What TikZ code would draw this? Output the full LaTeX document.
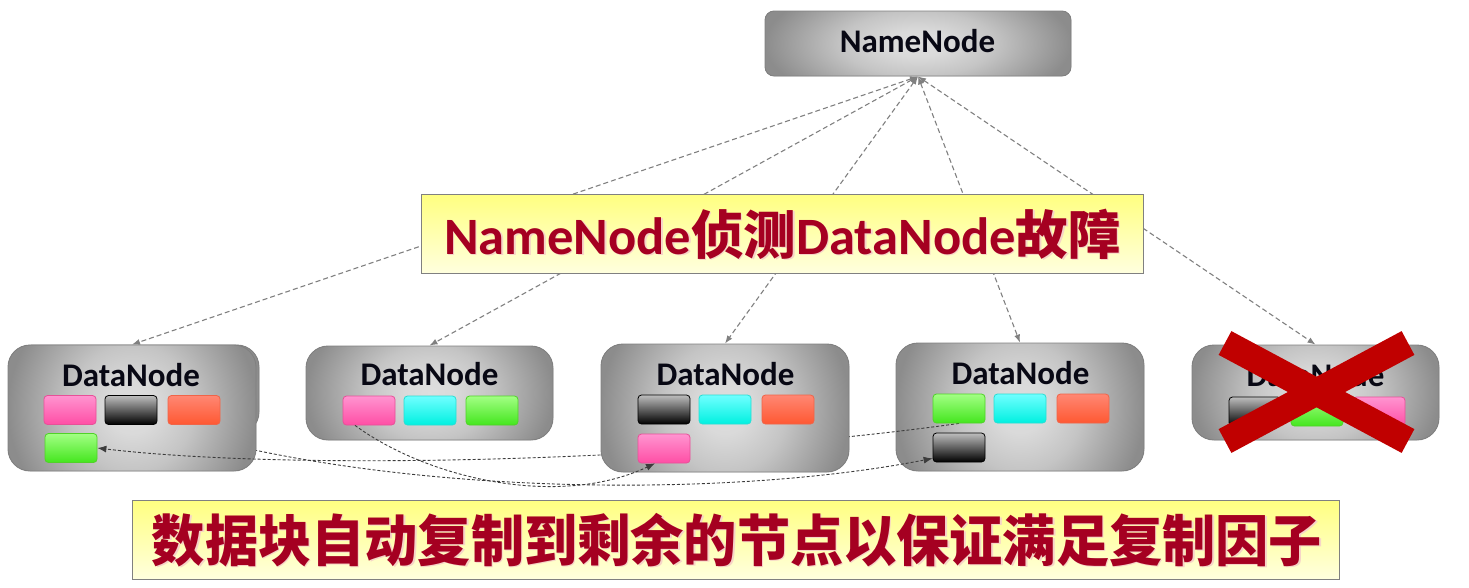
\documentclass[tikz,border=0pt]{standalone}
\usepackage{fontspec}
\setmainfont{Carlito}
\newfontfamily\cjk{Noto Sans CJK SC}
\usetikzlibrary{arrows.meta,calc}
\definecolor{bxc}{gray}{0.87}
\definecolor{bxc2}{gray}{0.855}
\definecolor{bxm}{gray}{0.77}
\definecolor{bxe}{gray}{0.55}
\definecolor{bxb}{gray}{0.5}
\definecolor{yt}{RGB}{255,255,128}
\definecolor{yb}{RGB}{255,255,222}
\definecolor{ybd}{RGB}{128,128,128}
\definecolor{tred}{RGB}{165,0,33}
\definecolor{tshadow}{RGB}{246,212,200}
\definecolor{lblc}{RGB}{8,8,20}
\definecolor{conn}{RGB}{128,128,128}
\definecolor{replc}{RGB}{60,60,60}
\definecolor{xred}{RGB}{192,0,0}
\definecolor{pkT}{RGB}{255,148,208}
\definecolor{pkB}{RGB}{255,78,165}
\definecolor{pkD}{RGB}{232,80,152}
\definecolor{bkT}{RGB}{190,190,190}
\definecolor{bkB}{RGB}{0,0,0}
\definecolor{bkD}{RGB}{0,0,0}
\definecolor{orT}{RGB}{255,135,115}
\definecolor{orB}{RGB}{255,88,50}
\definecolor{orD}{RGB}{240,100,72}
\definecolor{cyT}{RGB}{112,255,255}
\definecolor{cyB}{RGB}{0,240,224}
\definecolor{cyD}{RGB}{40,222,212}
\definecolor{gnT}{RGB}{162,255,132}
\definecolor{gnB}{RGB}{68,230,30}
\definecolor{gnD}{RGB}{80,210,40}
\pgfdeclareradialshading{boxshade}{\pgfpoint{0bp}{0bp}}{color(0bp)=(bxc); color(5bp)=(bxc2); color(12.5bp)=(bxm); color(25bp)=(bxe); color(50bp)=(bxe)}
\pgfdeclarelayer{conn}
\pgfdeclarelayer{ybg}
\pgfdeclarelayer{dnA}
\pgfdeclarelayer{lA}
\pgfdeclarelayer{dnB}
\pgfdeclarelayer{lB}
\pgfdeclarelayer{dnC}
\pgfsetlayers{conn,ybg,dnA,lA,dnB,lB,dnC,main}
\begin{document}
\begin{tikzpicture}[x=1pt,y=-1pt,
  boxfill/.style={fill=bxe, path picture={
    \shade[shading=boxshade] let \p1=(path picture bounding box.north east), \p2=(path picture bounding box.south west) in
      (\x2,{\y2-0.5*(\y1-\y2)}) rectangle (\x1,{\y1+0.5*(\y1-\y2)});}},
  dnbox/.style={draw=bxb, line width=0.9pt, rounded corners=22pt, inner sep=0pt, boxfill},
  nnbox/.style={draw=bxb, line width=0.9pt, rounded corners=9pt, inner sep=0pt, boxfill},
  ybox/.style={draw=ybd, line width=1pt, top color=yt, bottom color=yb, inner sep=0pt},
  lbl/.style={font=\fontsize{33}{36}\selectfont\bfseries, text=lblc, anchor=base, inner sep=0pt},
  ytxt/.style={font=\fontsize{52.5}{60}\selectfont\bfseries, inner sep=0pt},
  ztxt/.style={font=\cjk\fontsize{55.7}{62}\selectfont\bfseries, inner sep=0pt, xscale=0.955},
  blk/.style={minimum width=52pt, minimum height=29pt, inner sep=0pt, rounded corners=3.5pt, line width=0.8pt},
  pk/.style={blk, draw=pkD, top color=pkT, bottom color=pkB},
  bk/.style={blk, draw=bkD, top color=bkT, bottom color=bkB},
  or/.style={blk, draw=orD, top color=orT, bottom color=orB},
  cy/.style={blk, draw=cyD, top color=cyT, bottom color=cyB},
  gn/.style={blk, draw=gnD, top color=gnT, bottom color=gnB},
  nnconn/.style={draw=conn, line width=1.1pt, dash pattern=on 5pt off 3pt, <->, >={Latex[length=8pt,width=6pt]}},
  repl/.style={draw=replc, line width=0.9pt, dash pattern=on 3pt off 2pt, ->, >={Latex[length=9pt,width=7pt]}},
  xbar/.style={draw=xred, line width=27pt, line cap=butt},
]
\useasboundingbox (0,0) rectangle (1469,587);

% NameNode
\node[nnbox, minimum width=306pt, minimum height=65pt] (nn) at (918,43.5) {};
\node[lbl] (nnt) at (917.5,52) {NameNode};

% DataNode boxes
\begin{pgfonlayer}{dnA}
\node[dnbox, minimum width=247pt, minimum height=94pt] (dn2) at (429.5,393) {};
\node[dnbox, minimum width=248pt, minimum height=128pt] (dn4) at (1020,407) {};
\node[dnbox, minimum width=247pt, minimum height=95pt] (dn5) at (1315.5,392.5) {};
\end{pgfonlayer}
\begin{pgfonlayer}{dnB}
\node[dnbox, minimum width=248pt, minimum height=89pt] (dn1b) at (135,389.5) {};
\node[dnbox, minimum width=248pt, minimum height=126pt] (dn1) at (132,408) {};
\end{pgfonlayer}
\begin{pgfonlayer}{dnC}
\node[dnbox, minimum width=248pt, minimum height=128pt] (dn3) at (725,408) {};
\end{pgfonlayer}

\node[lbl] (dn1t) at (131,386) {DataNode};
\node[lbl] (dn2t) at (429.5,385) {DataNode};
\node[lbl] (dn3t) at (725.5,385) {DataNode};
\node[lbl] (dn4t) at (1020.5,384) {DataNode};
\node[lbl] (dn5t) at (1315.5,386) {DataNode};

% blocks
\node[pk] (d1p) at (70,410) {};
\node[bk] (d1k) at (131,410) {};
\node[or] (d1o) at (194,410) {};
\node[gn] (d1g) at (71,448) {};

\node[pk] (d2p) at (369,410.5) {};
\node[cy] (d2c) at (430,410.5) {};
\node[gn] (d2g) at (492,410.5) {};

\node[bk] (d3k) at (664,409.5) {};
\node[cy] (d3c) at (725,409.5) {};
\node[or] (d3o) at (788,409.5) {};
\node[pk] (d3p) at (664,448.5) {};

\node[gn] (d4g) at (959,408.5) {};
\node[cy] (d4c) at (1020,408.5) {};
\node[or] (d4o) at (1083,408.5) {};
\node[bk] (d4k) at (959,447.5) {};

\node[bk] (d5k) at (1255,411.5) {};
\node[gn] (d5g) at (1317,411.5) {};
\node[pk] (d5p) at (1379,411.5) {};

% NameNode <-> DataNode connectors
\begin{pgfonlayer}{conn}
\draw[nnconn] (nn.south) -- (dn1.north);
\draw[nnconn] (nn.south) -- (dn2.north);
\draw[nnconn] (nn.south) -- (dn3.north);
\draw[nnconn] (nn.south) -- (dn4.north);
\draw[nnconn] (nn.south) -- (dn5.north);
\end{pgfonlayer}

% yellow box 1
\begin{pgfonlayer}{ybg}
\node[ybox, minimum width=722pt, minimum height=79pt] (yb1) at (782,233.5) {};
\node[ytxt, text=tshadow] (t1s) at (784,235.5) {NameNode{\cjk 侦测}DataNode{\cjk 故障}};
\node[ytxt, text=tred] (t1) at (782.5,234) {NameNode{\cjk 侦测}DataNode{\cjk 故障}};
\end{pgfonlayer}

% replication connectors
\begin{pgfonlayer}{lA}
\draw[repl] (d1k.south east) .. controls (380,495) and (720,500) .. ($(d4k.south west)+(0,-4)$);
\end{pgfonlayer}
\begin{pgfonlayer}{lB}
\draw[repl] (d4g.south) .. controls (700,460) and (300,472) .. (d1g.east);
\end{pgfonlayer}
\draw[repl] ($(d2p.south)+(-14,0)$) .. controls (430,480) and (560,508) .. ($(d3p.south)+(-9,0)$);

% yellow box 2
\node[ybox, minimum width=1207pt, minimum height=79pt] (yb2) at (735.5,539.5) {};
\node[ztxt, text=tshadow] (t2s) at (738.5,541.5) {数据块自动复制到剩余的节点以保证满足复制因子};
\node[ztxt, text=tred] (t2) at (737,540) {数据块自动复制到剩余的节点以保证满足复制因子};

% red cross
\draw[xbar] (1225,343) -- (1408,441);
\draw[xbar] (1408,343) -- (1225,441);
\end{tikzpicture}
\end{document}
